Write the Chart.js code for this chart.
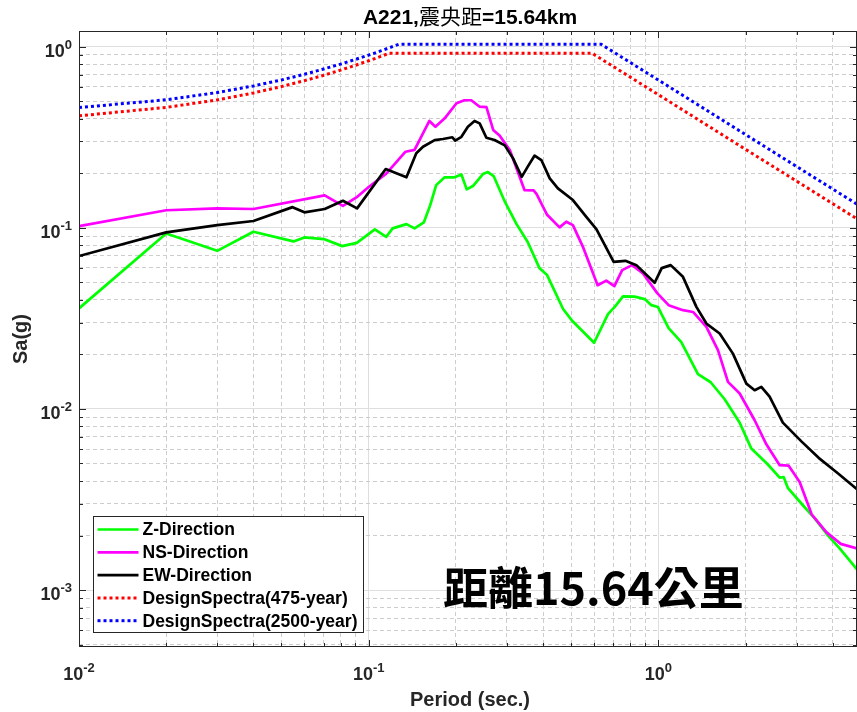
<!DOCTYPE html>
<html>
<head>
<meta charset="utf-8">
<script src="https://cdn.jsdelivr.net/npm/chart.js@4.4.1/dist/chart.umd.min.js"></script>
<style>
  html, body { margin: 0; padding: 0; background: #fff; }
  #wrap { width: 857px; height: 712px; }
</style>
</head>
<body>
<div id="wrap"><canvas id="spectraChart" width="857" height="712"></canvas></div>
<script>
// Response spectra of station A221, periods in sec, Sa in g

const zPeriod = [0.01, 0.02, 0.03, 0.04, 0.055, 0.06, 0.07, 0.081, 0.091, 0.105, 0.115, 0.121, 0.135, 0.144, 0.155, 0.163, 0.171, 0.183, 0.198, 0.209, 0.218, 0.229, 0.248, 0.258, 0.27, 0.296, 0.324, 0.354, 0.389, 0.413, 0.469, 0.502, 0.6, 0.67, 0.707, 0.755, 0.828, 0.897, 0.946, 0.997, 1.085, 1.2, 1.37, 1.516, 1.694, 1.909, 2.094, 2.384, 2.623, 2.707, 2.802, 3.155, 3.464, 3.855, 4.225, 4.85];
const zSa = [0.0359, 0.0931, 0.0746, 0.0951, 0.0841, 0.0885, 0.0866, 0.0792, 0.0826, 0.098, 0.0892, 0.0993, 0.1048, 0.0992, 0.107, 0.133, 0.172, 0.19, 0.19, 0.197, 0.163, 0.17, 0.198, 0.203, 0.193, 0.138, 0.1048, 0.0834, 0.0597, 0.0548, 0.0356, 0.0309, 0.0232, 0.0334, 0.0366, 0.0418, 0.0417, 0.0404, 0.0374, 0.0365, 0.0279, 0.0234, 0.01555, 0.01404, 0.01131, 0.00839, 0.00604, 0.00495, 0.00418, 0.00421, 0.00365, 0.00294, 0.00249, 0.002, 0.0017, 0.0013];

const nsPeriod = [0.01, 0.02, 0.03, 0.04, 0.0705, 0.0815, 0.0907, 0.1, 0.115, 0.134, 0.144, 0.162, 0.17, 0.183, 0.201, 0.214, 0.226, 0.241, 0.255, 0.269, 0.283, 0.307, 0.345, 0.371, 0.38, 0.413, 0.456, 0.481, 0.507, 0.549, 0.617, 0.661, 0.705, 0.75, 0.812, 0.885, 0.991, 1.085, 1.216, 1.317, 1.465, 1.606, 1.739, 1.909, 2.15, 2.359, 2.623, 2.818, 3.075, 3.382, 3.8, 4.26, 4.85];
const nsSa = [0.102, 0.125, 0.128, 0.127, 0.151, 0.132, 0.147, 0.168, 0.199, 0.263, 0.269, 0.389, 0.361, 0.402, 0.487, 0.506, 0.506, 0.467, 0.464, 0.347, 0.323, 0.269, 0.1615, 0.161, 0.1535, 0.118, 0.1005, 0.108, 0.1035, 0.0785, 0.0482, 0.0511, 0.0476, 0.0584, 0.0622, 0.056, 0.0436, 0.0374, 0.0351, 0.0343, 0.0284, 0.0211, 0.0141, 0.01217, 0.00866, 0.00638, 0.00489, 0.00486, 0.00395, 0.00262, 0.00209, 0.0018, 0.0017];

const ewPeriod = [0.01, 0.02, 0.03, 0.04, 0.0546, 0.06, 0.0705, 0.0815, 0.0912, 0.1145, 0.135, 0.146, 0.154, 0.169, 0.1805, 0.1945, 0.199, 0.209, 0.22, 0.232, 0.2416, 0.2549, 0.272, 0.295, 0.315, 0.3375, 0.355, 0.374, 0.3945, 0.4217, 0.45, 0.507, 0.564, 0.611, 0.701, 0.7695, 0.8397, 0.971, 1.027, 1.103, 1.216, 1.353, 1.465, 1.628, 1.809, 2.013, 2.15, 2.267, 2.421, 2.69, 3.124, 3.575, 4.174, 4.85];
const ewSa = [0.0698, 0.0943, 0.1035, 0.109, 0.13, 0.1217, 0.127, 0.141, 0.128, 0.211, 0.19, 0.258, 0.28, 0.305, 0.309, 0.316, 0.303, 0.318, 0.361, 0.389, 0.377, 0.314, 0.305, 0.285, 0.2416, 0.191, 0.219, 0.2505, 0.2366, 0.1874, 0.165, 0.1423, 0.115, 0.0984, 0.0649, 0.0657, 0.0622, 0.0497, 0.0599, 0.0622, 0.0536, 0.0366, 0.0296, 0.0261, 0.0202, 0.0138, 0.01269, 0.01324, 0.01168, 0.0084, 0.0066, 0.00537, 0.0044, 0.0036];

// design spectra (475-year and 2500-year return periods)
const ds475Period = [0.01, 0.02, 0.03, 0.04, 0.05, 0.06, 0.07, 0.08, 0.09, 0.1, 0.11, 0.118, 0.59, 1.0, 2.0, 3.0, 4.85];
const ds475Sa = [0.415, 0.462, 0.508, 0.555, 0.602, 0.649, 0.695, 0.742, 0.789, 0.836, 0.883, 0.92, 0.92, 0.543, 0.271, 0.181, 0.112];
const ds2500Period = [0.01, 0.02, 0.03, 0.04, 0.05, 0.06, 0.07, 0.08, 0.09, 0.1, 0.11, 0.12, 0.127, 0.635, 1.0, 2.0, 3.0, 4.85];
const ds2500Sa = [0.461, 0.509, 0.558, 0.607, 0.655, 0.704, 0.753, 0.801, 0.85, 0.898, 0.947, 0.996, 1.03, 1.03, 0.654, 0.327, 0.218, 0.135];

const seriesNames = ['Z-Direction', 'NS-Direction', 'EW-Direction', 'DesignSpectra(475-year)', 'DesignSpectra(2500-year)'];
const xTickPowers = [-2, -1, 0];
const yTickPowers = [0, -1, -2, -3];

const AXIS_COLOR = '#262626';
const SANS = '"Liberation Sans", Arial, sans-serif';
const CJK = '"Noto Sans CJK TC", "Noto Sans CJK SC", sans-serif';

function toPoints(periods, values) {
    return periods.map((t, i) => ({ x: t, y: values[i] }));
}

// 1..9 x 10^k inside [min, max], the 1's are the decades
function logTicks(min, max) {
    const ticks = [];
    for (let p = Math.floor(Math.log10(min)); p <= Math.ceil(Math.log10(max)); p++) {
        for (let m = 1; m <= 9; m++) {
            const v = parseFloat((m * Math.pow(10, p)).toPrecision(6));
            if (v >= min * 0.999 && v <= max * 1.001) ticks.push({ value: v, major: m === 1 });
        }
    }
    return ticks;
}

// "10" with a raised exponent, anchor = 'center' or 'right'
function drawPower(ctx, exp, x, baseline, anchor) {
    const base = '10';
    const sup = String(exp);
    ctx.font = 'bold 18px ' + SANS;
    const wb = ctx.measureText(base).width;
    ctx.font = 'bold 13px ' + SANS;
    const ws = ctx.measureText(sup).width;
    const left = anchor === 'center' ? x - (wb + ws) / 2 : x - wb - ws;
    ctx.textAlign = 'left';
    ctx.textBaseline = 'alphabetic';
    ctx.font = 'bold 18px ' + SANS;
    ctx.fillText(base, left, baseline);
    ctx.font = 'bold 13px ' + SANS;
    ctx.fillText(sup, left + wb, baseline - 8);
}

const axesDecor = {
    id: 'axesDecor',
    afterDraw(chart) {
        const { ctx, chartArea: a } = chart;
        const xs = chart.scales.x, ys = chart.scales.y;
        ctx.save();

        // axes box with inward ticks
        ctx.strokeStyle = AXIS_COLOR;
        ctx.lineWidth = 1;
        ctx.setLineDash([]);
        ctx.strokeRect(a.left + 0.5, a.top + 0.5, a.right - a.left - 1, a.bottom - a.top - 1);
        ctx.beginPath();
        xs.ticks.forEach(t => {
            const px = Math.round(xs.getPixelForValue(t.value)) + 0.5;
            const len = t.major ? 7 : 4;
            ctx.moveTo(px, a.bottom); ctx.lineTo(px, a.bottom - len);
            ctx.moveTo(px, a.top); ctx.lineTo(px, a.top + len);
        });
        ys.ticks.forEach(t => {
            const py = Math.round(ys.getPixelForValue(t.value)) + 0.5;
            const len = t.major ? 7 : 4;
            ctx.moveTo(a.left, py); ctx.lineTo(a.left + len, py);
            ctx.moveTo(a.right, py); ctx.lineTo(a.right - len, py);
        });
        ctx.stroke();

        // tick labels
        ctx.fillStyle = AXIS_COLOR;
        xTickPowers.forEach(p => {
            drawPower(ctx, p, xs.getPixelForValue(Math.pow(10, p)), a.bottom + 33, 'center');
        });
        yTickPowers.forEach(p => {
            drawPower(ctx, p, a.left - 7, ys.getPixelForValue(Math.pow(10, p)) + 10, 'right');
        });

        // axis titles
        ctx.font = 'bold 20px ' + SANS;
        ctx.textAlign = 'center';
        ctx.textBaseline = 'alphabetic';
        ctx.fillText('Period (sec.)', 470, 706);
        ctx.save();
        ctx.translate(27, (a.top + a.bottom) / 2);
        ctx.rotate(-Math.PI / 2);
        ctx.fillText('Sa(g)', 0, 0);
        ctx.restore();

        // title, latin part bold, the CJK part regular
        const parts = [
            { text: 'A221,', font: 'bold 21px ' + SANS },
            { text: '震央距', font: '21px ' + CJK },
            { text: '=15.64km', font: 'bold 21px ' + SANS }
        ];
        let total = 0;
        parts.forEach(pt => { ctx.font = pt.font; pt.w = ctx.measureText(pt.text).width; total += pt.w; });
        let tx = 470 - total / 2;
        ctx.fillStyle = '#000';
        ctx.textAlign = 'left';
        parts.forEach(pt => { ctx.font = pt.font; ctx.fillText(pt.text, tx, 24); tx += pt.w; });

        // legend
        const lg = { x: 93.5, y: 516.5, w: 270, h: 116 };
        ctx.fillStyle = '#fff';
        ctx.fillRect(lg.x, lg.y, lg.w, lg.h);
        ctx.strokeStyle = AXIS_COLOR;
        ctx.lineWidth = 1;
        ctx.strokeRect(lg.x, lg.y, lg.w, lg.h);
        ctx.textBaseline = 'middle';
        ctx.font = 'bold 17.5px ' + SANS;
        chart.data.datasets.forEach((ds, i) => {
            const cy = 529.5 + i * 22.8;
            ctx.strokeStyle = ds.borderColor;
            ctx.lineWidth = ds.borderWidth;
            ctx.setLineDash(ds.borderDash || []);
            ctx.beginPath();
            ctx.moveTo(97.5, cy);
            ctx.lineTo(138.5, cy);
            ctx.stroke();
            ctx.setLineDash([]);
            ctx.fillStyle = '#000';
            ctx.fillText(ds.label, 142.5, cy + 1);
        });

        // distance note
        ctx.font = 'bold 45px ' + CJK;
        ctx.textBaseline = 'alphabetic';
        ctx.fillStyle = '#000';
        ctx.fillText('距離15.64公里', 443, 605);

        ctx.restore();
    }
};

const X_MIN = 0.01, X_MAX = 4.85;
const Y_MIN = 4.85e-4, Y_MAX = 1.22;

const gridOpts = {
    drawTicks: false,
    lineWidth: 1,
    color: c => (c.tick && c.tick.major) ? '#dedede' : '#cdcdcd'
};
const borderOpts = {
    display: false,
    dash: c => (c.tick && !c.tick.major) ? [4, 3] : []
};

new Chart(document.getElementById('spectraChart'), {
    type: 'line',
    data: {
        datasets: [
            { label: seriesNames[0], data: toPoints(zPeriod, zSa), borderColor: '#00ff00', borderWidth: 2.7, order: 5 },
            { label: seriesNames[1], data: toPoints(nsPeriod, nsSa), borderColor: '#ff00ff', borderWidth: 2.7, order: 4 },
            { label: seriesNames[2], data: toPoints(ewPeriod, ewSa), borderColor: '#000000', borderWidth: 2.7, order: 3 },
            { label: seriesNames[3], data: toPoints(ds475Period, ds475Sa), borderColor: '#ff0000', borderWidth: 3, borderDash: [3, 3], order: 2 },
            { label: seriesNames[4], data: toPoints(ds2500Period, ds2500Sa), borderColor: '#0000ff', borderWidth: 3, borderDash: [3, 3], order: 1 }
        ]
    },
    options: {
        responsive: false,
        devicePixelRatio: 1,
        animation: false,
        layout: { padding: { top: 31, right: 0, bottom: 0, left: 0 } },
        elements: { point: { radius: 0 }, line: { tension: 0, borderCapStyle: 'butt', borderJoinStyle: 'round' } },
        plugins: { legend: { display: false }, title: { display: false }, tooltip: { enabled: false } },
        scales: {
            x: {
                type: 'logarithmic',
                min: X_MIN, max: X_MAX,
                ticks: { display: false },
                grid: gridOpts,
                border: borderOpts,
                afterBuildTicks: s => { s.ticks = logTicks(X_MIN, X_MAX); },
                afterFit: s => { s.height = 65; }
            },
            y: {
                type: 'logarithmic',
                min: Y_MIN, max: Y_MAX,
                ticks: { display: false },
                grid: gridOpts,
                border: borderOpts,
                afterBuildTicks: s => { s.ticks = logTicks(Y_MIN, Y_MAX); },
                afterFit: s => { s.width = 79; }
            }
        }
    },
    plugins: [axesDecor]
});
</script>
</body>
</html>
